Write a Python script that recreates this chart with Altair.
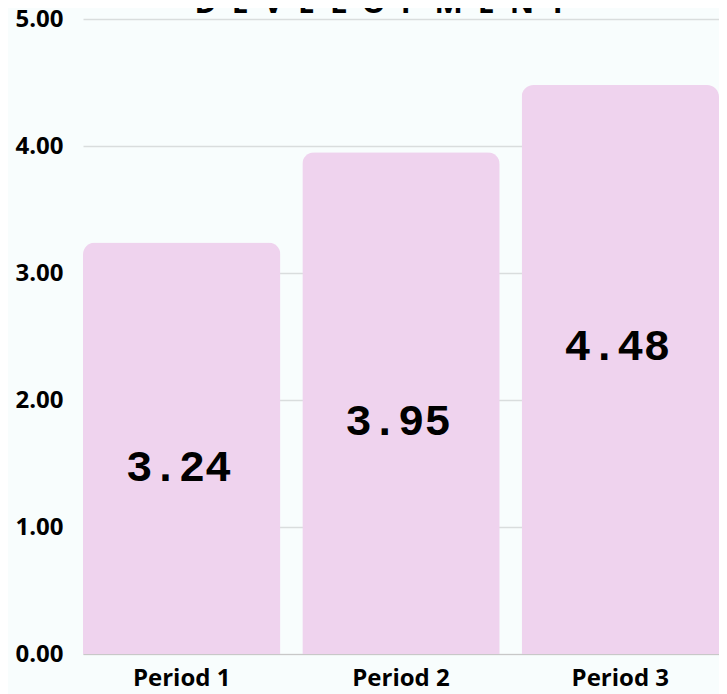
import altair as alt
import pandas as pd

periods = ["Period 1", "Period 2", "Period 3"]
scores = [3.24, 3.95, 4.48]
label_pos = [1.465, 1.83, 2.42]
y_ticks = [0, 1, 2, 3, 4, 5]
title_text = ["\u2002".join("DEVELOPMENT")]

df = pd.DataFrame({
    "period": periods,
    "score": scores,
    "label_pos": label_pos,
    "label": [f"{v:.2f}" for v in scores],
})
title_df = pd.DataFrame({"t": title_text})

x_enc = alt.X(
    "period:N", sort=periods, title=None,
    scale=alt.Scale(paddingInner=0.1, paddingOuter=0),
    axis=alt.Axis(labelAngle=0, labelFont="Open Sans", labelFontSize=24,
                  labelFontWeight="bold", labelColor="#000000", labelPadding=12,
                  ticks=False, domain=True, domainColor="#c8c8c8", grid=False,
                  zindex=1),
)

bars = alt.Chart(df).mark_bar(
    color="#EFD3EE", cornerRadiusTopLeft=12, cornerRadiusTopRight=12
).encode(
    x=x_enc,
    y=alt.Y("score:Q", title=None,
            scale=alt.Scale(domain=[0, 5], nice=False),
            axis=alt.Axis(values=y_ticks, format=".2f", labelFont="Open Sans",
                          labelFontSize=24, labelFontWeight="bold",
                          labelColor="#000000", labelPadding=20, ticks=False,
                          domain=False, gridColor="#d9dddd", gridWidth=1.5)),
)

labels = alt.Chart(df).mark_text(
    font="Liberation Mono", fontSize=44, fontWeight="bold", color="#000000",
    baseline="middle", dx=-3
).encode(
    x=alt.X("period:N", sort=periods),
    y=alt.Y("label_pos:Q"),
    text="label:N",
)

title = alt.Chart(title_df).mark_text(
    font="Open Sans", fontSize=30, fontWeight="bold", color="#000000",
    baseline="alphabetic", align="center"
).encode(
    x=alt.value(297.5),
    y=alt.value(-6),
    text="t:N",
)

chart = alt.layer(bars, labels, title).properties(
    width=636, height=635,
    autosize=alt.AutoSizeParams(type="none"),
    padding={"left": 75, "top": 11, "right": 0, "bottom": 40},
).configure(
    background="#F8FDFD",
).configure_view(stroke=None)

chart.save("out.html", embed_options={"renderer": "svg", "actions": False})
